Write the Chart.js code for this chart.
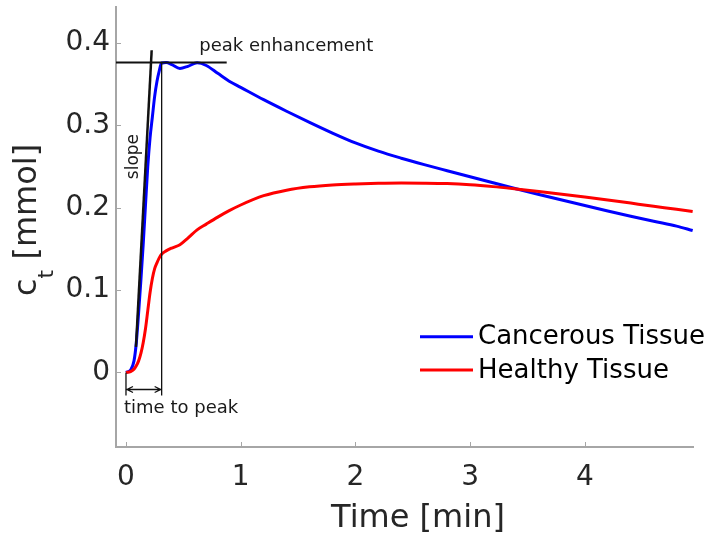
<!DOCTYPE html>
<html>
<head>
<meta charset="utf-8">
<script src="https://cdn.jsdelivr.net/npm/chart.js@4"></script>
<style>
  html,body{margin:0;padding:0;background:#fff;}
  #wrap{width:710px;height:535px;position:relative;}
</style>
</head>
<body>
<div id="wrap"><canvas id="ctChart"></canvas></div>
<script>
// =========================
// Data
// =========================

const timeMin = [0, 0.04, 0.07, 0.09, 0.11, 0.13, 0.15, 0.17, 0.19, 0.21, 0.23, 0.25, 0.27, 0.29, 0.31,
  0.35, 0.40, 0.47, 0.54, 0.62, 0.70, 0.80, 0.90, 1.0, 1.2, 1.4, 1.6, 1.8, 2.0, 2.2, 2.4, 2.6, 2.8,
  3.0, 3.2, 3.4, 3.6, 3.8, 4.0, 4.2, 4.4, 4.6, 4.8, 4.94];

const cancerous = [0, 0.003, 0.014, 0.036, 0.072, 0.112, 0.155, 0.203, 0.25, 0.285, 0.31, 0.335, 0.353, 0.366, 0.3755,
  0.376, 0.3735, 0.369, 0.3715, 0.3757, 0.3725, 0.363, 0.3535, 0.346, 0.331, 0.317, 0.3035, 0.2905, 0.2785, 0.2685, 0.26, 0.2522, 0.2448,
  0.2375, 0.2302, 0.223, 0.216, 0.2092, 0.2025, 0.1959, 0.1895, 0.1834, 0.1776, 0.1722];

const healthy = [0, 0.001, 0.004, 0.008, 0.014, 0.023, 0.036, 0.053, 0.075, 0.097, 0.114, 0.126, 0.133, 0.139, 0.1435,
  0.1475, 0.151, 0.155, 0.163, 0.173, 0.18, 0.1885, 0.1963, 0.2032, 0.2145, 0.2212, 0.2253, 0.2276, 0.2288, 0.2295, 0.2298, 0.2297, 0.2292,
  0.2278, 0.2255, 0.2226, 0.2195, 0.2162, 0.2128, 0.2093, 0.2055, 0.2017, 0.198, 0.1953];

const seriesLabels = ["Cancerous Tissue", "Healthy Tissue"];

const xTicks = [0, 1, 2, 3, 4];
const xTickLabels = ["0", "1", "2", "3", "4"];
const yTicks = [0, 0.1, 0.2, 0.3, 0.4];
const yTickLabels = ["0", "0.1", "0.2", "0.3", "0.4"];

// annotation marks (data units)
const peakLineX = [-0.087, 0.878];
const peakLineY = [0.376, 0.376];
const slopeLineX = [0.087, 0.224];
const slopeLineY = [0.031, 0.391];
const peakTimeX = [0.311, 0.311];
const peakTimeY = [0.376, -0.028];
const startTimeX = [0, 0];
const startTimeY = [0, -0.028];
const arrowX = [0, 0.311];
const arrowY = -0.0207;

const FONT = "'DejaVu Sans', Verdana, sans-serif";
const TEXT = "#262626";
const AXIS = "#a6a6a6";

function pts(xs, ys){
  return xs.map((x,i)=>({x:x, y:ys[i]}));
}

function annoLine(xs, ys, w){
  return {
    label: "", data: pts(xs, ys), borderColor: "#111", borderWidth: w,
    pointRadius: 0, tension: 0, order: 0, isAnno: true
  };
}

// =========================
// Extra drawing
// =========================

const extras = {
  id: "extras",
  afterDraw(chart){
    const c = chart.ctx;
    const xs = chart.scales.x, ys = chart.scales.y;
    const area = chart.chartArea;
    const px = v => xs.getPixelForValue(v);
    const py = v => ys.getPixelForValue(v);

    c.save();

    // inward ticks
    c.strokeStyle = AXIS;
    c.lineWidth = 1;
    xTicks.forEach(t=>{
      c.beginPath();
      c.moveTo(Math.round(px(t))+0.5, area.bottom);
      c.lineTo(Math.round(px(t))+0.5, area.bottom-5);
      c.stroke();
    });
    yTicks.forEach(t=>{
      c.beginPath();
      c.moveTo(area.left, Math.round(py(t))+0.5);
      c.lineTo(area.left+5, Math.round(py(t))+0.5);
      c.stroke();
    });

    // double arrow for time to peak
    c.strokeStyle = "#111";
    c.lineWidth = 1.3;
    const ay = py(arrowY), a0 = px(arrowX[0]), a1 = px(arrowX[1]);
    c.beginPath();
    c.moveTo(a0, ay); c.lineTo(a1, ay);
    c.moveTo(a0+7, ay-3); c.lineTo(a0+1, ay); c.lineTo(a0+7, ay+3);
    c.moveTo(a1-7, ay-3); c.lineTo(a1-1, ay); c.lineTo(a1-7, ay+3);
    c.stroke();

    // annotation text
    c.fillStyle = "#1a1a1a";
    c.font = "18px " + FONT;
    c.textAlign = "left";
    c.textBaseline = "alphabetic";
    c.fillText("peak enhancement", px(0.639), py(0.39));
    c.textBaseline = "middle";
    c.fillText("time to peak", px(-0.017), py(-0.0434));

    c.save();
    c.translate(px(0.07), py(0.262));
    c.rotate(-Math.PI/2);
    c.font = "17px " + FONT;
    c.textAlign = "center";
    c.fillText("slope", 0, 0);
    c.restore();

    // x axis title
    c.fillStyle = TEXT;
    c.font = "32px " + FONT;
    c.textAlign = "center";
    c.textBaseline = "alphabetic";
    c.fillText("Time [min]", area.left + 302, area.bottom + 80);

    // y axis title with subscript
    c.save();
    c.translate(36, 296);
    c.rotate(-Math.PI/2);
    c.textAlign = "left";
    c.textBaseline = "alphabetic";
    c.font = "32px " + FONT;
    const wc = c.measureText("c").width;
    c.fillText("c", 0, 0);
    c.font = "22px " + FONT;
    const wt = c.measureText("t").width;
    c.fillText("t", wc, 17);
    c.font = "32px " + FONT;
    c.fillText(" [mmol]", wc+wt, 0);
    c.restore();

    // legend
    const lx = area.right - 273;
    const rows = [area.bottom - 110.3, area.bottom - 77];
    chart.data.datasets.filter(d=>!d.isAnno).forEach((d,i)=>{
      c.strokeStyle = d.borderColor;
      c.lineWidth = 3;
      c.beginPath();
      c.moveTo(lx, rows[i]); c.lineTo(lx+53, rows[i]);
      c.stroke();
      c.fillStyle = "#000";
      c.font = "26px " + FONT;
      c.textAlign = "left";
      c.textBaseline = "middle";
      c.fillText(d.label, lx+58, rows[i]+1);
    });

    c.restore();
  }
};

// =========================
// Chart
// =========================

const ctx = document.getElementById("ctChart").getContext("2d");

const ctChart = new Chart(ctx, {
  type: "line",
  data: {
    datasets: [
      {
        label: seriesLabels[0],
        data: pts(timeMin, cancerous),
        borderColor: "#0000ff",
        borderWidth: 3,
        pointRadius: 0,
        cubicInterpolationMode: "monotone",
        order: 2
      },
      {
        label: seriesLabels[1],
        data: pts(timeMin, healthy),
        borderColor: "#ff0000",
        borderWidth: 3,
        pointRadius: 0,
        cubicInterpolationMode: "monotone",
        order: 1
      },
      annoLine(peakLineX, peakLineY, 2),
      annoLine(slopeLineX, slopeLineY, 2.5),
      annoLine(peakTimeX, peakTimeY, 1.3),
      annoLine(startTimeX, startTimeY, 1.3)
    ]
  },
  options: {
    responsive: true,
    maintainAspectRatio: false,
    animation: false,
    layout: { padding: { top: 7, right: 17, left: 0, bottom: 0 } },
    plugins: {
      legend: { display: false },
      tooltip: { enabled: false }
    },
    scales: {
      x: {
        type: "linear",
        min: -0.087,
        max: 4.943,
        afterBuildTicks: s => { s.ticks = xTicks.map(v=>({value:v})); },
        afterFit: s => { s.height = 88; s.paddingLeft = 0; s.paddingRight = 0; },
        grid: { display: false, drawTicks: false },
        border: { display: true, color: AXIS, width: 2 },
        ticks: {
          padding: 14,
          color: TEXT,
          font: { family: FONT, size: 28 },
          maxRotation: 0,
          callback: (v, i) => xTickLabels[i]
        }
      },
      y: {
        type: "linear",
        min: -0.0905,
        max: 0.4435,
        afterBuildTicks: s => { s.ticks = yTicks.map(v=>({value:v})); },
        afterFit: s => { s.width = 116; s.paddingTop = 0; s.paddingBottom = 0; },
        grid: { display: false, drawTicks: false },
        border: { display: true, color: AXIS, width: 2 },
        ticks: {
          padding: 6,
          color: TEXT,
          font: { family: FONT, size: 28 },
          callback: (v, i) => yTickLabels[i]
        }
      }
    }
  },
  plugins: [extras]
});
</script>
</body>
</html>
